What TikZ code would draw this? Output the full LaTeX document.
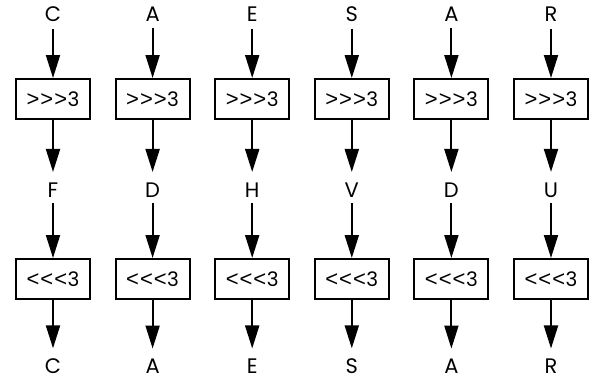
\documentclass[tikz,border=0pt]{standalone}
\usepackage{fontspec}
\setmainfont{Poppins}
\newfontfamily\chevf{Liberation Sans}
\usetikzlibrary{arrows.meta}
\newcommand{\shiftR}{{\chevf\fontsize{22}{22}\selectfont >\kern1pt>\kern1pt>}\kern0.5pt 3}
\newcommand{\shiftL}{{\chevf\fontsize{22}{22}\selectfont <\kern1pt<\kern1pt<}\kern0.5pt 3}
\begin{document}
\begin{tikzpicture}[x=1pt,y=-1pt,
  box/.style={draw, line width=2pt, minimum width=74pt, minimum height=40pt, inner sep=0pt, font=\fontsize{20}{20}\selectfont},
  lbl/.style={inner sep=0pt, font=\fontsize{21}{21}\selectfont},
  arr/.style={line width=2pt, -{Triangle[length=23pt,width=14pt]}}]
\useasboundingbox (0,0) rectangle (605,380);
\foreach \i/\a/\b in {0/C/F,1/A/D,2/E/H,3/S/V,4/A/D,5/R/U}{
  \pgfmathsetmacro{\xx}{53+99.6*\i}
  \node[lbl] (t\i) at (\xx,14) {\a};
  \node[box] (e\i) at (\xx,99) {\shiftR};
  \node[lbl] (m\i) at (\xx,190.5) {\b};
  \node[box] (d\i) at (\xx,279) {\shiftL};
  \node[lbl] (o\i) at (\xx,366) {\a};
  \draw[arr, shorten <=7pt] (t\i) -- (e\i);
  \draw[arr, shorten >=11pt] (e\i) -- (m\i);
  \draw[arr, shorten <=5pt] (m\i) -- (d\i);
  \draw[arr, shorten >=10pt] (d\i) -- (o\i);
}
\end{tikzpicture}
\end{document}
